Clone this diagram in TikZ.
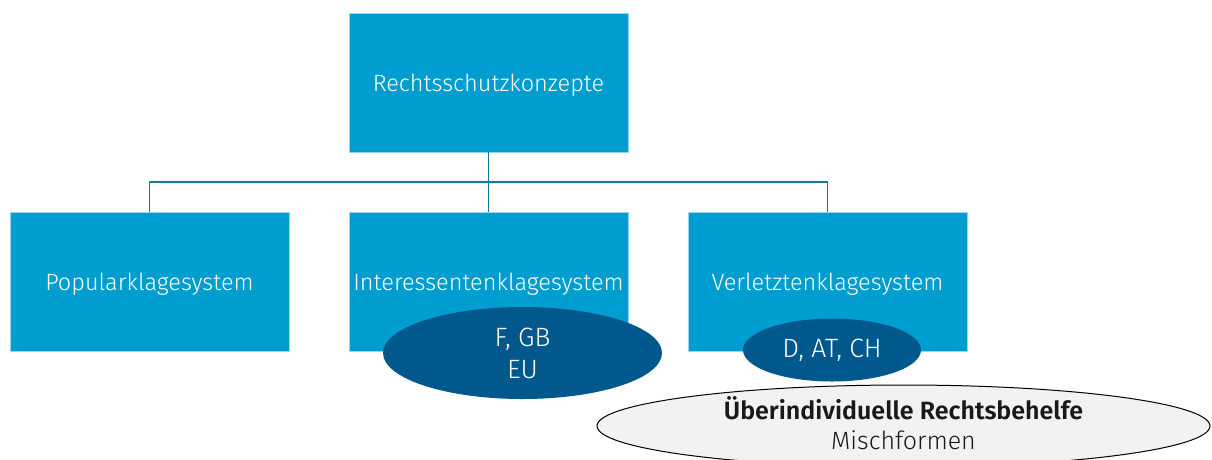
\documentclass[tikz,border=0pt]{standalone}
\usepackage{fontspec}
\setmainfont{Fira Sans}[UprightFont={* Light}, BoldFont={* SemiBold}]
\usetikzlibrary{shapes.geometric}
\definecolor{boxblue}{RGB}{0,158,208}
\definecolor{darkblue}{RGB}{0,88,140}
\definecolor{linecol}{RGB}{20,120,160}
\definecolor{lightgrey}{RGB}{242,242,242}
\begin{document}
\begin{tikzpicture}[x=1pt,y=-1pt,
  bluebox/.style={rectangle, fill=boxblue, draw=boxblue!40, line width=0.6pt, minimum width=279pt, minimum height=139pt, inner sep=0pt, text=white, font=\fontsize{23.5}{27}\selectfont},
  conn/.style={draw=linecol, line width=1.4pt},
  darkell/.style={ellipse, fill=darkblue, inner sep=0pt, text=white, align=center, font=\fontsize{26.5}{32}\selectfont},
  greyell/.style={ellipse, fill=lightgrey, draw=black, line width=1pt, inner sep=0pt, text=black!90, align=center, font=\fontsize{25}{30}\selectfont}]
\clip (0,0) rectangle (1212,459);
\fill[white] (0,0) rectangle (1212,459);
\node[bluebox] (top) at (488.5,82.5) {};
\node[text=white, font=\fontsize{23.5}{27}\selectfont, inner sep=0pt] (toplbl) at (488.5,85) {Rechtsschutzkonzepte};
\node[bluebox] (pop) at (149.5,281.5) {};
\node[bluebox] (int) at (488.5,281.5) {};
\node[bluebox] (ver) at (827.5,281.5) {};
\node[text=white, font=\fontsize{23.5}{27}\selectfont, inner sep=0pt] (poplbl) at (149.5,284) {Popularklagesystem};
\node[text=white, font=\fontsize{23.5}{27}\selectfont, inner sep=0pt] (intlbl) at (488.5,284) {Interessentenklagesystem};
\node[text=white, font=\fontsize{23.5}{27}\selectfont, inner sep=0pt] (verlbl) at (827.5,284) {Verletztenklagesystem};
\coordinate (mid) at (488.5,182);
\draw[conn] (top.south) -- (int.north);
\draw[conn] (pop.north) |- (mid) -| (ver.north);
\node[darkell, minimum width=279pt, minimum height=92pt] (fgb) at (522.5,353) {F, GB\\EU};
\node[darkell, minimum width=178pt, minimum height=63pt] (dat) at (832,350) {D, AT, CH};
\node[greyell, minimum width=613pt, minimum height=82pt] (ueb) at (903.5,426) {};
\node[text=black!90, align=center, font=\fontsize{25}{30}\selectfont, inner sep=0pt] (uebl) at (903.5,423) {\textbf{Überindividuelle Rechtsbehelfe}\\Mischformen};
\end{tikzpicture}
\end{document}
